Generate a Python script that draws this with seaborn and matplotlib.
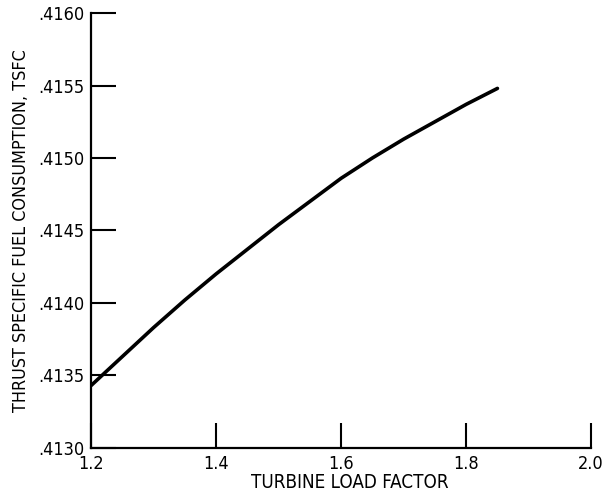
import matplotlib
matplotlib.use("Agg")
import matplotlib.pyplot as plt
import seaborn as sns
import pandas as pd

load_factor = [1.20, 1.25, 1.30, 1.35, 1.40, 1.45, 1.50, 1.55, 1.60, 1.65, 1.70, 1.75, 1.80, 1.85]
tsfc = [0.41343, 0.41363, 0.41383, 0.41402, 0.41420, 0.41437, 0.41454,
        0.41470, 0.41486, 0.41500, 0.41513, 0.41525, 0.41537, 0.41548]
x_ticks = [1.2, 1.4, 1.6, 1.8, 2.0]
x_labels = ["1.2", "1.4", "1.6", "1.8", "2.0"]
y_ticks = [0.4130, 0.4135, 0.4140, 0.4145, 0.4150, 0.4155, 0.4160]
y_labels = [".4130", ".4135", ".4140", ".4145", ".4150", ".4155", ".4160"]

sns.set_theme(style="ticks")
plt.rcParams['font.family'] = ['DejaVu Sans']
plt.rcParams['font.stretch'] = 'condensed'

fig = plt.figure(figsize=(6.07, 5.01), dpi=100)
ax = fig.add_axes([0.150, 0.106, 0.824, 0.868])

df = pd.DataFrame({"x": load_factor, "y": tsfc})
sns.lineplot(data=df, x="x", y="y", ax=ax, color="black", linewidth=2.6)

ax.set_xlim(1.2, 2.0)
ax.set_ylim(0.4130, 0.4160)
ax.set_xticks(x_ticks)
ax.set_xticklabels(x_labels)
ax.set_yticks(y_ticks)
ax.set_yticklabels(y_labels)
ax.tick_params(direction="in", length=18, width=1.5, colors="black", labelsize=13, pad=5)
for s in ["top", "right"]:
    ax.spines[s].set_visible(False)
for s in ["left", "bottom"]:
    ax.spines[s].set_linewidth(1.6)
    ax.spines[s].set_color("black")
ax.set_xlabel("TURBINE LOAD FACTOR", fontsize=13.5, labelpad=1, color="black")
ax.xaxis.set_label_coords(0.518, -0.058)
ax.set_ylabel("THRUST SPECIFIC FUEL CONSUMPTION, TSFC", fontsize=12.9, labelpad=6, color="black")

fig.savefig("out.png", dpi=100)
